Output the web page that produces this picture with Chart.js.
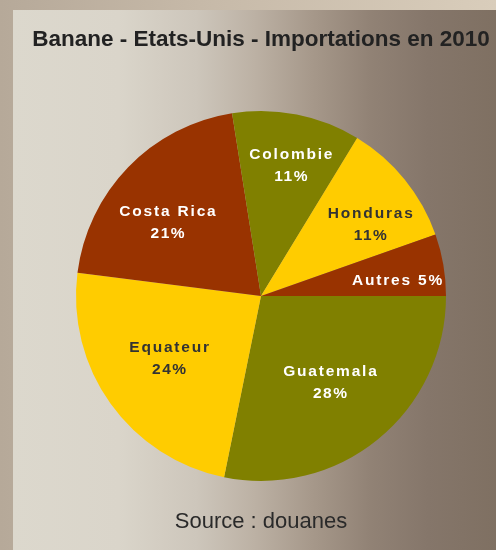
<!DOCTYPE html>
<html>
<head>
<meta charset="utf-8">
<script src="https://cdn.jsdelivr.net/npm/chart.js@4.4.0/dist/chart.umd.min.js"></script>
<style>
  html, body { margin: 0; padding: 0; }
  body { width: 496px; height: 550px; overflow: hidden; position: relative;
         background: linear-gradient(to right, #b6a999 0%, #c6b9a8 40%, #d9cdbb 100%); }
  #panel { position: absolute; left: 13px; top: 10px; right: 0; bottom: 0;
           background: linear-gradient(to right, #dcd8cd 0%, #dad5ca 22%, #cdc6bb 38%, #bcb1a4 50%, #a6988a 62%, #918275 74%, #85766a 86%, #7f7062 100%); }
  #wrap { position: absolute; left: 0; top: 0; width: 496px; height: 550px; }
</style>
</head>
<body>
<div id="panel"></div>
<div id="wrap"><canvas id="c" width="496" height="550"></canvas></div>
<script>
const categories = ["Guatemala", "Equateur", "Costa Rica", "Colombie", "Honduras", "Autres"];
const values = [28.2, 23.8, 20.5, 11.2, 10.9, 5.4];
const percentLabels = ["28%", "24%", "21%", "11%", "11%", "5%"];
const sliceColors = ["#808000", "#ffcc00", "#993300", "#808000", "#ffcc00", "#993300"];
const labelColors = ["#ffffff", "#333333", "#ffffff", "#ffffff", "#333333", "#ffffff"];
// label placement styling: radial fraction and angular nudge (degrees)
const labelRadius = [0.60, 0.60, 0.643, 0.72, 0.705, 0.74];
const labelNudge = [0.8, 1.5, -5.9, 1.8, 6.0, 3.4];
const singleLine = [false, false, false, false, false, true];

const sliceLabels = {
  id: 'sliceLabels',
  afterDatasetsDraw(chart) {
    const ctx = chart.ctx;
    const meta = chart.getDatasetMeta(0);
    ctx.save();
    ctx.font = 'bold 15.5px "Liberation Sans", Arial, sans-serif';
    ctx.textAlign = 'center';
    ctx.textBaseline = 'middle';
    meta.data.forEach((arc, i) => {
      const p = arc.getProps(['x', 'y', 'startAngle', 'endAngle', 'outerRadius'], true);
      const mid = (p.startAngle + p.endAngle) / 2 + labelNudge[i] * Math.PI / 180;
      const r = p.outerRadius * labelRadius[i];
      const cx = p.x + Math.cos(mid) * r;
      const cy = p.y + Math.sin(mid) * r;
      ctx.fillStyle = labelColors[i];
      const drawSpaced = (txt, x, y, sp) => {
        ctx.letterSpacing = sp + 'px';
        ctx.fillText(txt, x + sp / 2, y);
      };
      if (singleLine[i]) {
        drawSpaced(categories[i] + ' ' + percentLabels[i], cx, cy, 1.8);
      } else {
        drawSpaced(categories[i], cx, cy - 11, 1.8);
        drawSpaced(percentLabels[i], cx, cy + 11, 1.5);
      }
    });
    ctx.restore();
  }
};

new Chart(document.getElementById('c'), {
  type: 'pie',
  data: {
    labels: categories,
    datasets: [{
      data: values,
      backgroundColor: sliceColors,
      borderWidth: 0,
      hoverOffset: 0,
      offset: 0
    }]
  },
  options: {
    responsive: false,
    animation: false,
    rotation: 90,
    layout: { padding: { left: 26, right: 0, top: 0, bottom: 4 } },
    plugins: {
      legend: { display: false },
      tooltip: { enabled: false },
      title: {
        display: true,
        text: 'Banane - Etats-Unis - Importations en 2010',
        color: '#222222',
        font: { family: '"Liberation Sans", Arial, sans-serif', size: 22.5, weight: 'bold', lineHeight: 1.2 },
        padding: { top: 26.5, bottom: 57.5 }
      },
      subtitle: {
        display: true,
        position: 'bottom',
        text: 'Source : douanes',
        color: '#2a2a2a',
        font: { family: '"Liberation Sans", Arial, sans-serif', size: 22, weight: 'normal', lineHeight: 1.2 },
        padding: { top: 27.3, bottom: 11.3 }
      }
    }
  },
  plugins: [sliceLabels]
});
</script>
</body>
</html>
